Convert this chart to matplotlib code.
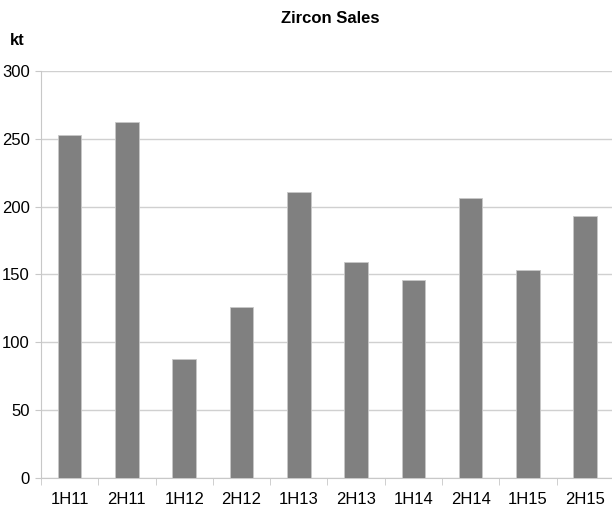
import matplotlib.pyplot as plt
import numpy as np

plt.rcParams['font.family'] = ['Liberation Sans', 'DejaVu Sans']

categories = ['1H11', '2H11', '1H12', '2H12', '1H13', '2H13', '1H14', '2H14', '1H15', '2H15']
sales = [252.5, 262, 88, 126, 210.5, 159.5, 146, 206, 153.5, 193]

fig = plt.figure(figsize=(6.12, 5.16), dpi=100)
ax = fig.add_axes([0.067, 0.0736, 0.936, 0.789])

x = np.arange(len(categories))
ax.bar(x, sales, width=0.41, color='#808080', edgecolor='#c8c8c8', linewidth=0.6, zorder=3)

ax.set_xlim(-0.5, len(categories) - 0.5)
ax.set_ylim(0, 300)
ax.set_yticks(range(0, 301, 50))
ax.set_xticks(x)
ax.set_xticklabels(categories)
ax.set_xticks(np.arange(-0.5, len(categories), 1), minor=True)

ax.yaxis.grid(True, color='#d0d0d0', linewidth=1, zorder=0)
for side in ['top', 'right']:
    ax.spines[side].set_visible(False)
for side in ['left', 'bottom']:
    ax.spines[side].set_color('#c8c8c8')

ax.tick_params(axis='y', length=4, color='#c8c8c8', labelsize=12, pad=4)
ax.tick_params(axis='x', which='major', length=0, labelsize=12, pad=10)
ax.tick_params(axis='x', which='minor', length=5, color='#c8c8c8')

fig.text(0.54, 0.965, 'Zircon Sales', ha='center', va='center', fontsize=12, fontweight='bold')
fig.text(0.029, 0.922, 'kt', ha='center', va='center', fontsize=12, fontweight='bold')

plt.savefig('out.png', dpi=100)
